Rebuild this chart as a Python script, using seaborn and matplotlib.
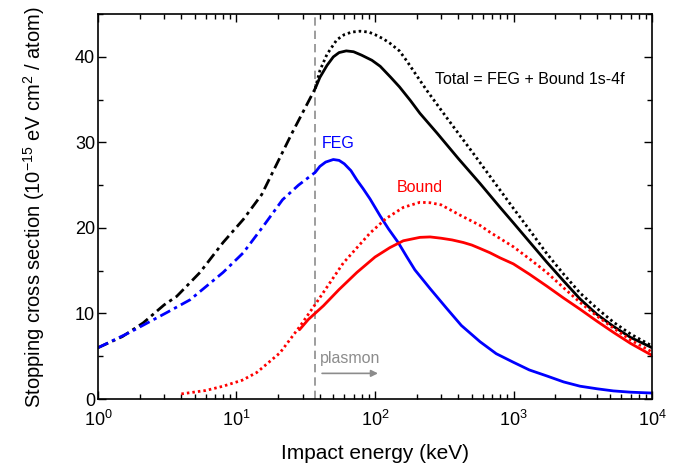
import numpy as np
import pandas as pd
import matplotlib
matplotlib.use("Agg")
import matplotlib.pyplot as plt
from matplotlib.ticker import LogLocator, MultipleLocator, NullFormatter
import seaborn as sns

# Energia (keV) e secao de choque (1e-15 eV cm^2 / atom)
total_low_e = [1, 1.5, 2.12, 3.0, 3.7, 5.45, 8.0, 11.2, 15.2, 25, 37]
total_low_s = [6.0, 7.3, 8.9, 11.0, 12.0, 14.8, 18.3, 21.0, 23.9, 31.0, 36.3]

feg_low_e = [1, 1.7, 3.13, 4.62, 8.0, 11.2, 15.6, 21.5, 28, 37]
feg_low_s = [6.0, 7.8, 10.1, 11.6, 14.8, 17.1, 20.2, 23.3, 25.0, 26.5]

total_e = [37, 40, 45, 50, 55, 62, 70, 80, 95, 109, 130, 150, 180, 211, 280,
           400, 573, 800, 997, 1300, 1738, 2300, 3020, 4000, 5255, 7000, 10000]
total_s = [36.3, 37.6, 39.0, 40.0, 40.5, 40.7, 40.6, 40.2, 39.6, 38.9, 37.6,
           36.5, 34.9, 33.4, 31.1, 28.1, 25.2, 22.4, 20.6, 18.4, 16.0, 13.8,
           11.7, 9.9, 8.5, 7.2, 6.0]

total_dot_e = [37, 40, 45, 53, 60, 68, 78, 90, 100, 115, 128, 150, 170, 200,
               236, 329, 513, 715, 997, 1300, 1738, 2300, 3020, 4000, 5255,
               7000, 10000]
total_dot_s = [36.3, 38.4, 40.3, 42.0, 42.6, 42.9, 43.0, 42.9, 42.6, 42.1,
               41.6, 40.7, 39.5, 37.8, 36.1, 32.9, 28.7, 25.5, 22.3, 19.8,
               17.0, 14.6, 12.4, 10.6, 9.0, 7.6, 6.2]

feg_e = [37, 40, 44, 50, 55, 60, 67, 74, 82, 92, 109, 125, 147, 170, 194,
         250, 329, 420, 573, 750, 997, 1300, 1738, 2300, 3020, 4000, 5255,
         7000, 10000]
feg_s = [26.5, 27.2, 27.7, 28.0, 27.9, 27.5, 26.7, 25.6, 24.6, 23.4, 21.4,
         19.9, 18.3, 16.6, 15.1, 12.9, 10.6, 8.6, 6.7, 5.3, 4.3, 3.4, 2.7,
         2.0, 1.5, 1.2, 0.95, 0.8, 0.7]

bound_e = [28.5, 33, 42.4, 55, 74, 100, 128, 160, 211, 250, 300, 360, 434,
           500, 573, 676, 800, 997, 1300, 1738, 2300, 3020, 4000, 5255, 7000,
           10000]
bound_s = [8.1, 9.3, 10.9, 12.8, 14.8, 16.6, 17.7, 18.5, 18.9, 18.95, 18.8,
           18.6, 18.3, 18.0, 17.6, 17.1, 16.5, 15.8, 14.6, 13.2, 11.8, 10.5,
           9.1, 7.8, 6.5, 5.1]

bound_dot_e = [4.0, 6, 8, 11, 14, 20.6, 28.7, 37.9, 59, 92, 120, 160, 211,
               250, 300, 411, 573, 676, 997, 1300, 1738, 2300, 3020, 4000,
               5255, 7000, 10000]
bound_dot_s = [0.6, 1.0, 1.5, 2.2, 3.1, 5.4, 8.5, 11.3, 15.9, 19.4, 21.1,
               22.4, 23.0, 22.95, 22.7, 21.5, 20.3, 19.5, 17.8, 16.4, 14.8,
               13.0, 11.3, 9.7, 8.3, 6.9, 5.5]

plasmon_energy = 37

sns.set_style("ticks")
plt.rcParams["font.family"] = ["Liberation Sans", "DejaVu Sans"]
plt.rcParams["mathtext.fontset"] = "custom"
plt.rcParams["mathtext.rm"] = "Liberation Sans"
plt.rcParams["mathtext.it"] = "Liberation Sans:italic"
plt.rcParams["mathtext.bf"] = "Liberation Sans:bold"
for key in ["text.color", "axes.labelcolor", "xtick.color", "ytick.color",
            "axes.edgecolor"]:
    plt.rcParams[key] = "black"

fig = plt.figure(figsize=(6.9, 4.7), dpi=100)
ax = fig.add_axes([0.142, 0.151, 0.803, 0.819])

dashdot = (0, (4, 1.6, 1.2, 1.6))
dotted = (0, (0.9, 1.1))
lw = 2.0

series = [
    (total_low_e, total_low_s, "black", dashdot),
    (feg_low_e, feg_low_s, "blue", dashdot),
    (total_e, total_s, "black", "-"),
    (total_dot_e, total_dot_s, "black", dotted),
    (feg_e, feg_s, "blue", "-"),
    (bound_e, bound_s, "red", "-"),
    (bound_dot_e, bound_dot_s, "red", dotted),
]
for e, s, c, ls in series:
    df = pd.DataFrame({"E": e, "S": s})
    sns.lineplot(data=df, x="E", y="S", ax=ax, color=c, linestyle=ls,
                 linewidth=lw, estimator=None)

ax.axvline(plasmon_energy, color="#8c8c8c", linestyle=(0, (5, 3)), lw=1.2,
           zorder=1)

ax.set_xscale("log")
ax.set_xlim(1, 1e4)
ax.set_ylim(0, 45)

ax.xaxis.set_major_locator(LogLocator(base=10, numticks=10))
ax.xaxis.set_minor_locator(LogLocator(base=10, subs=np.arange(2, 10), numticks=50))
ax.xaxis.set_minor_formatter(NullFormatter())
ax.yaxis.set_major_locator(MultipleLocator(10))
ax.yaxis.set_minor_locator(MultipleLocator(5))

ax.tick_params(which="both", direction="in", top=True, right=True,
               labelsize=13, width=1)
ax.tick_params(which="major", length=6)
ax.tick_params(which="minor", length=3.5)
ax.tick_params(axis="x", which="major", pad=8)
ax.tick_params(axis="y", which="major", pad=2)
for sp in ax.spines.values():
    sp.set_linewidth(1.2)

ax.set_xlabel("Impact energy (keV)", fontsize=15, labelpad=10)
ax.set_ylabel("Stopping cross section (10$^{-15}$ eV cm$^2$ / atom)",
              fontsize=14.5, labelpad=20)

ax.text(271, 37.3, "Total = FEG + Bound 1s-4f", fontsize=11.5, color="black",
        ha="left", va="center")
ax.text(41.2, 29.9, "FEG", fontsize=11.5, color="blue", ha="left", va="center")
ax.text(143.5, 24.7, "Bound", fontsize=11.5, color="red", ha="left", va="center")
ax.text(40.1, 4.7, "plasmon", fontsize=11.5, color="#8c8c8c", ha="left",
        va="center")
ax.annotate("", xy=(110, 3.0), xytext=(39.6, 3.0),
            arrowprops=dict(arrowstyle="-|>", color="#8c8c8c", lw=1.2,
                            mutation_scale=10))

plt.savefig("out.png", dpi=100)
plt.close()
